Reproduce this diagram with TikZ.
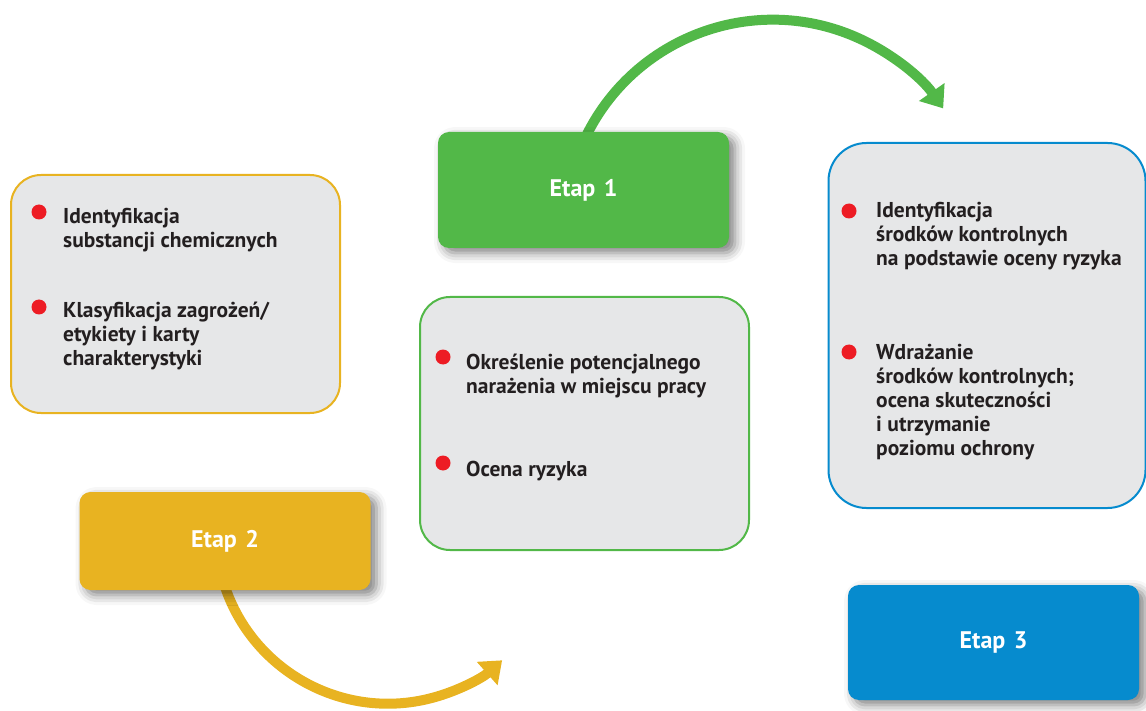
\documentclass[tikz,border=0pt]{standalone}
\usepackage{fontspec}
\setmainfont{PT Sans}
\usepackage{tikz}
\usetikzlibrary{arrows.meta, shadows.blur, backgrounds}
\usepackage{xcolor}
\definecolor{etapgreen}{HTML}{52B848}
\definecolor{etapgold}{HTML}{E8B321}
\definecolor{etapblue}{HTML}{068BCE}
\definecolor{boxgray}{HTML}{E6E7E8}
\definecolor{dotred}{HTML}{ED1C24}
\definecolor{txt}{HTML}{231F20}

\begin{document}
\begin{tikzpicture}[x=1pt, y=1pt,
    etap/.style={rounded corners=11pt, minimum width=291pt, inner sep=0pt,
        text=white, font=\bfseries\fontsize{24}{28}\selectfont,
        blur shadow={shadow xshift=6pt, shadow yshift=-5pt, shadow blur radius=10pt, shadow opacity=50}},
    panel/.style={draw, line width=2pt, fill=boxgray, rounded corners=30pt, inner sep=0pt},
    item/.style={anchor=north west, inner sep=0pt, align=left, text=txt,
        font=\bfseries\fontsize{21.5}{24}\selectfont},
    dot/.style={circle, fill=dotred, minimum size=15pt, inner sep=0pt},
    bigarrow/.style={line width=10pt, -{Triangle[length=20pt, width=30pt]}}]
    \useasboundingbox (0,0) rectangle (1146,-711);

    % Panele z opisem etapow
    \node[panel, draw=etapgold, minimum width=329pt, minimum height=238pt] (p2) at (175.5,-294) {};
    \node[panel, draw=etapgreen, minimum width=329pt, minimum height=253pt] (p1) at (584.5,-423.5) {};
    \node[panel, draw=etapblue, minimum width=317pt, minimum height=365pt, rounded corners=38pt] (p3) at (987,-325.5) {};

    % Etap 2 - lewy panel
    \node[dot] (d21) at (39,-212) {};
    \node[item] (t21) at (63,-208) {Identyfikacja\\substancji chemicznych};
    \node[dot] (d22) at (39,-307) {};
    \node[item] (t22) at (63,-302) {Klasyfikacja zagrożeń/\\etykiety i karty\\charakterystyki};

    % Etap 1 - srodkowy panel
    \node[dot] (d11) at (443,-357) {};
    \node[item] (t11) at (466,-354) {Określenie potencjalnego\\narażenia w miejscu pracy};
    \node[dot] (d12) at (443,-463) {};
    \node[item] (t12) at (466,-461) {Ocena ryzyka};

    % Etap 3 - prawy panel
    \node[dot] (d31) at (849,-211) {};
    \node[item] (t31) at (876,-202) {Identyfikacja\\środków kontrolnych\\na podstawie oceny ryzyka};
    \node[dot] (d32) at (849,-352) {};
    \node[item] (t32) at (876,-344) {Wdrażanie\\środków kontrolnych;\\ocena skuteczności\\i utrzymanie\\poziomu ochrony};

    % Etapy
    \node[etap, fill=etapgreen, minimum height=116pt] (e1) at (583.5,-190) {Etap\hspace{0.35em}1};
    \node[etap, fill=etapgold, minimum height=98pt] (e2) at (225,-541) {Etap\hspace{0.35em}2};
    \node[etap, fill=etapblue, minimum height=115pt] (e3) at (993.5,-642.5) {Etap\hspace{0.35em}3};

    % Strzalki
    \coordinate (a1) at ([xshift=146.5pt, yshift=-8pt]e1.north west);
    \coordinate (a2) at ([xshift=142.5pt, yshift=14pt]e2.south west);
    \begin{scope}[on background layer]
        \draw[bigarrow, etapgreen] (a1) arc[start angle=155, end angle=35, radius=208];
        \draw[bigarrow, etapgold] (a2) arc[start angle=195, end angle=311.6, radius=172];
    \end{scope}
\end{tikzpicture}
\end{document}
